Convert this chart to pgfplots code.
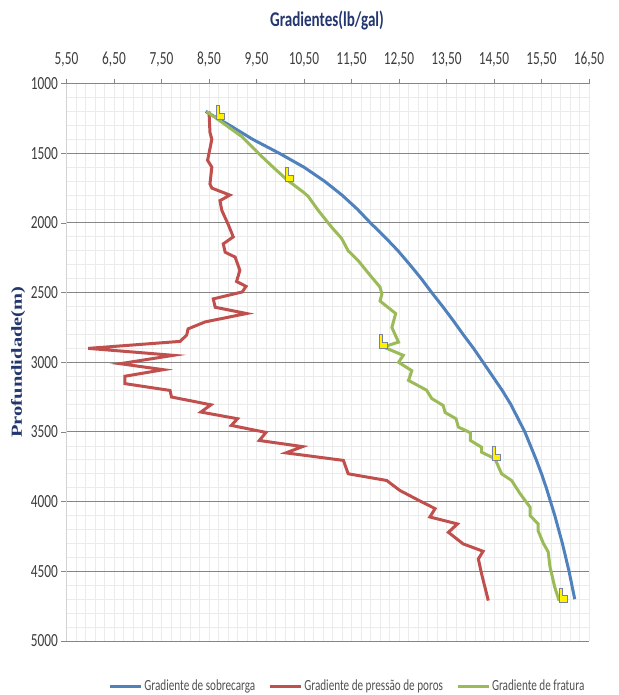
\documentclass[border=0pt]{standalone}
\usepackage{pgfplots}
\pgfplotsset{compat=1.18}
\usepackage{fontspec}
\setmainfont{Carlito}[FakeStretch=0.72]
\newfontfamily\labfont{Liberation Serif}
\definecolor{cblue}{RGB}{79,129,189}
\definecolor{cred}{RGB}{192,80,77}
\definecolor{cgreen}{RGB}{155,187,89}
\definecolor{navy}{RGB}{35,55,110}
\definecolor{majgrid}{RGB}{134,134,134}
\definecolor{mingrid}{RGB}{235,235,235}
\definecolor{axisgray}{RGB}{210,210,210}
\definecolor{ticktext}{RGB}{60,60,60}
\definecolor{legtext}{RGB}{80,80,80}
\definecolor{shoeedge}{RGB}{120,130,160}
\pgfdeclareplotmark{shoe}{%
  \pgfpathmoveto{\pgfqpoint{-4pt}{7pt}}%
  \pgfpathlineto{\pgfqpoint{-0.7pt}{7pt}}%
  \pgfpathlineto{\pgfqpoint{-0.7pt}{-0.5pt}}%
  \pgfpathlineto{\pgfqpoint{4pt}{-0.5pt}}%
  \pgfpathlineto{\pgfqpoint{4pt}{-7pt}}%
  \pgfpathlineto{\pgfqpoint{-4pt}{-7pt}}%
  \pgfpathclose
  \pgfusepathqfillstroke}
\begin{document}
\begin{tikzpicture}
\path[use as bounding box] (-66.5pt,-54pt) rectangle (551.5pt,641pt);
\begin{axis}[
  at={(0pt,0pt)}, anchor=south west,
  scale only axis, width=522.5pt, height=557.4pt,
  xmin=5.5, xmax=16.5, ymin=1000, ymax=5000, y dir=reverse,
  axis x line=top, axis y line=left, axis line style={-},
  x axis line style={draw=majgrid, line width=1pt},
  y axis line style={draw=axisgray, line width=1.6pt},
  xtick={5.5,6.5,7.5,8.5,9.5,10.5,11.5,12.5,13.5,14.5,15.5,16.5},
  xticklabels={{5,50},{6,50},{7,50},{8,50},{9,50},{10,50},{11,50},{12,50},{13,50},{14,50},{15,50},{16,50}},
  ytick={1000,1500,2000,2500,3000,3500,4000,4500,5000},
  yticklabels={1000,1500,2000,2500,3000,3500,4000,4500,5000},
  minor x tick num=4, minor y tick num=4,
  grid=both,
  major x grid style={draw=mingrid, line width=0.8pt},
  minor x grid style={draw=mingrid, line width=0.8pt},
  major y grid style={draw=majgrid, line width=1pt},
  minor y grid style={draw=mingrid, line width=0.8pt},
  tick align=outside, major tick length=5pt, minor tick length=0pt,
  major tick style={draw=majgrid, line width=0.8pt},
  ticklabel style={font=\fontsize{18.5}{18.5}\selectfont, text=ticktext},
  xticklabel style={yshift=8pt},
  legend columns=3,
  legend style={draw=none, fill=none, at={(axis description cs:0.074,-0.081)}, anchor=west,
    font=\fontsize{15.5}{15.5}\selectfont, text=legtext,
    /tikz/every even column/.append style={column sep=11pt}},
  legend image code/.code={\draw[#1] (0pt,0pt) -- (31pt,0pt);},
]
\addplot[cblue, line width=3pt] coordinates {
(8.43,1200) (8.94,1300) (9.42,1400) (9.98,1500) (10.50,1600) (10.93,1700)
(11.30,1800) (11.62,1900) (11.90,2000) (12.20,2100) (12.48,2200) (12.73,2300)
(12.97,2400) (13.19,2500) (13.42,2600) (13.64,2700) (13.85,2800) (14.07,2900)
(14.27,3000) (14.47,3100) (14.67,3200) (14.85,3300) (15.00,3400) (15.15,3500)
(15.27,3600) (15.39,3700) (15.50,3800) (15.60,3900) (15.69,4000) (15.78,4100)
(15.86,4200) (15.94,4300) (16.01,4400) (16.08,4500) (16.14,4600) (16.20,4700)};
\addlegendentry{Gradiente de sobrecarga}
\addplot[cred, line width=3pt] coordinates {
(8.50,1200) (8.52,1350) (8.56,1400) (8.47,1550) (8.56,1600) (8.52,1720)
(8.56,1750) (8.94,1800) (8.73,1840) (8.77,1910) (8.91,2015) (9.01,2100)
(8.80,2150) (8.84,2210) (9.05,2245) (9.15,2340) (9.08,2420) (9.28,2455)
(9.20,2495) (8.59,2545) (8.63,2605) (9.29,2650) (8.42,2710) (8.06,2760)
(8.03,2805) (7.89,2850) (5.96,2900) (7.75,2950) (6.63,3010) (7.54,3053)
(6.73,3100) (6.73,3153) (7.68,3202) (7.71,3249) (8.54,3305) (8.33,3357)
(9.10,3405) (8.97,3453) (9.70,3503) (9.56,3561) (10.47,3605) (10.12,3650)
(11.33,3704) (11.43,3800) (12.24,3848) (12.52,3920) (12.94,3995) (13.26,4050)
(13.15,4110) (13.73,4160) (13.54,4220) (13.85,4303) (14.27,4356) (14.17,4411)
(14.24,4520) (14.38,4710)};
\addlegendentry{Gradiente de pressão de poros}
\addplot[cgreen, line width=3pt] coordinates {
(8.45,1200) (8.70,1260) (9.19,1380) (9.54,1500) (9.85,1600) (10.14,1690)
(10.49,1780) (10.59,1810) (10.80,1910) (11.08,2030) (11.29,2110) (11.43,2200)
(11.64,2270) (11.89,2375) (12.10,2460) (12.14,2510) (12.10,2560) (12.43,2650)
(12.35,2750) (12.49,2855) (12.17,2890) (12.59,2950) (12.49,3000) (12.77,3060)
(12.70,3130) (13.08,3200) (13.19,3260) (13.43,3310) (13.47,3360) (13.70,3405)
(13.75,3465) (14.00,3505) (14.00,3560) (14.24,3610) (14.24,3645) (14.52,3692)
(14.66,3800) (14.87,3848) (15.05,3943) (15.26,4040) (15.26,4100) (15.43,4160)
(15.43,4210) (15.54,4300) (15.64,4360) (15.68,4470) (15.78,4615) (15.87,4710)};
\addlegendentry{Gradiente de fratura}
\addplot[only marks, mark=shoe, mark options={fill=yellow, draw=shoeedge, line width=0.6pt}, forget plot] coordinates {
(8.74,1206) (10.19,1651) (12.17,2851) (14.54,3655) (15.95,4670)};
\end{axis}
\node[text=navy, font=\fontsize{21}{21}\selectfont\bfseries] at (260.5pt,621pt) {Gradientes(lb/gal)};
\node[rotate=90, text=navy] at (-48.5pt,279pt) {\scalebox{1}[0.75]{\labfont\fontsize{20.5}{20.5}\selectfont\bfseries Profundidade(m)}};
\end{tikzpicture}
\end{document}
